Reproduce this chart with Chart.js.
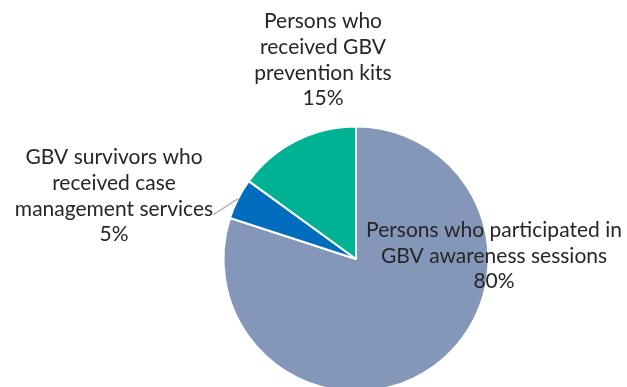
<!DOCTYPE html>
<html>
<head>
<meta charset="utf-8">
<script src="https://cdn.jsdelivr.net/npm/chart.js@4/dist/chart.umd.min.js"></script>
<style>
  html, body { margin: 0; padding: 0; background: #fff; overflow: hidden; }
  #wrap { position: absolute; left: 0; top: 0; width: 627px; height: 400px; }
</style>
</head>
<body>
<div id="wrap"><canvas id="gbvChart"></canvas></div>
<script>
  var categories = [
    ['Persons who participated in', 'GBV awareness sessions'],
    ['GBV survivors who', 'received case', 'management services'],
    ['Persons who', 'received GBV', 'prevention kits']
  ];
  var shares = [80, 5, 15];
  var colors = ['#8497b9', '#006cbd', '#00b294'];

  // label block centres, relative to the pie centre
  var labelOffsets = [{ x: 138, y: -3 }, { x: -242, y: -63 }, { x: -33, y: -199 }];
  var leaderLines = [false, true, false];

  var FONT = '21px Lato';
  var LINE_H = 25.6;

  var pieLabels = {
    id: 'pieLabels',
    afterDatasetsDraw: function (chart) {
      var ctx = chart.ctx;
      var arcs = chart.getDatasetMeta(0).data;
      ctx.save();
      ctx.font = FONT;
      ctx.fillStyle = '#262626';
      ctx.textAlign = 'center';
      ctx.textBaseline = 'middle';
      arcs.forEach(function (arc, i) {
        var lines = categories[i].concat([shares[i] + '%']);
        var cx = arc.x + labelOffsets[i].x;
        var cy = arc.y + labelOffsets[i].y;
        var top = cy - (lines.length - 1) * LINE_H / 2;
        lines.forEach(function (t, k) {
          ctx.fillText(t, cx, top + k * LINE_H);
        });
        if (leaderLines[i]) {
          // from the end of the longest line to the middle of the slice's rim
          var longest = lines.length - 2;
          var w = ctx.measureText(lines[longest]).width;
          var sx = cx + w / 2;
          var sy = top + longest * LINE_H + 6;
          var mid = (arc.startAngle + arc.endAngle) / 2;
          var ex = arc.x + Math.cos(mid) * arc.outerRadius;
          var ey = arc.y + Math.sin(mid) * arc.outerRadius;
          ctx.strokeStyle = '#a6a6a6';
          ctx.lineWidth = 1.2;
          ctx.beginPath();
          ctx.moveTo(sx, sy);
          ctx.lineTo(ex, ey);
          ctx.stroke();
        }
      });
      ctx.restore();
    }
  };

  new Chart(document.getElementById('gbvChart'), {
    type: 'pie',
    data: {
      labels: categories.map(function (c) { return c.join(' '); }),
      datasets: [{
        data: shares,
        backgroundColor: colors,
        borderColor: '#ffffff',
        borderWidth: 2
      }]
    },
    options: {
      responsive: true,
      maintainAspectRatio: false,
      animation: false,
      layout: { padding: { left: 222.5, right: 137.5, top: 125.5, bottom: 7.5 } },
      plugins: { legend: { display: false }, tooltip: { enabled: false } }
    },
    plugins: [pieLabels]
  });
</script>
</body>
</html>
